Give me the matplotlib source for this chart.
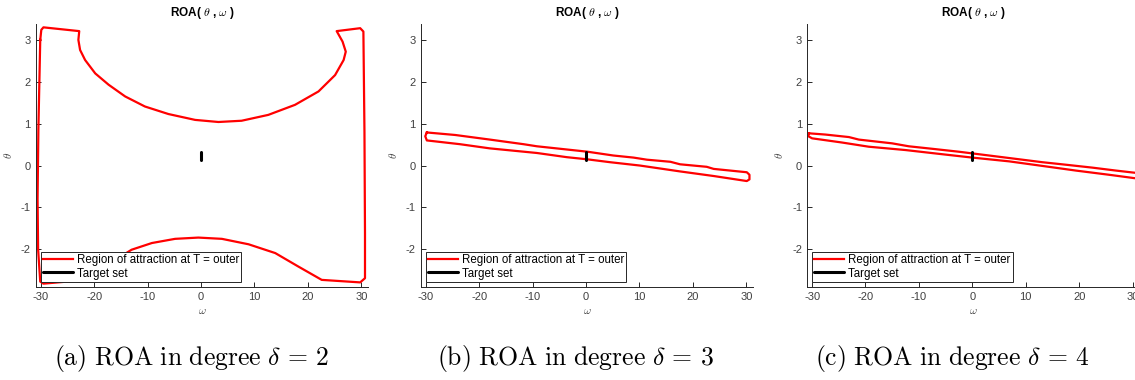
import matplotlib
matplotlib.use("Agg")
import matplotlib.pyplot as plt
import numpy as np

plt.rcParams['mathtext.fontset'] = 'cm'
plt.rcParams['font.family'] = ['Liberation Sans', 'DejaVu Sans']
plt.rcParams['axes.unicode_minus'] = False

# ---------------- data ----------------
# Panel (a): degree 2 outer ROA boundary (omega, theta)
roa2_omega = [-30.1, -29.9, -29.5, -22.8, -22.96, -22.64, -21.7, -19.8, -17.3, -14.2,
              -10.5, -6.1, -1.1, 3.26, 7.6, 12.6, 17.6, 22.0, 25.1, 26.7, 27.1,
              26.5, 25.4, 29.8, 30.4, 30.6, 30.7, 30.7, 29.8, 22.6, 18.2, 13.9,
              8.9, 3.9, -0.5, -4.85, -9.2, -13.0, -15.5, -18.6, -21.4, -29.5,
              -30.1, -30.5, -30.6, -30.45, -30.1]
roa2_theta = [3.00, 3.24, 3.30, 3.21, 3.00, 2.76, 2.52, 2.20, 1.93, 1.65,
              1.41, 1.23, 1.09, 1.04, 1.07, 1.21, 1.45, 1.77, 2.16, 2.52, 2.72,
              2.96, 3.21, 3.28, 3.20, 0.80, -1.62, -2.69, -2.79, -2.73, -2.41, -2.09,
              -1.88, -1.75, -1.72, -1.75, -1.85, -2.01, -2.21, -2.51, -2.73, -2.82,
              -2.77, -2.00, -0.80, 0.85, 3.00]

# Panel (b): degree 3 outer ROA boundary
roa3_omega = [-29.8, -24.5, -18.0, -11.7, -9.2, -4.8, 0.3, 5.1, 8.9, 11.4, 15.8,
              17.6, 22.6, 23.9, 30.1, 30.6, 30.6, 30.1, 23.9, 17.6, 10.1, 4.5,
              0.15, -3.6, -9.2, -14.8, -18.0, -23.6, -29.8, -30.1, -29.8]
roa3_theta = [0.79, 0.73, 0.62, 0.51, 0.46, 0.40, 0.33, 0.24, 0.19, 0.14, 0.09,
              0.03, -0.03, -0.08, -0.16, -0.22, -0.33, -0.37, -0.25, -0.14, 0.00, 0.08,
              0.15, 0.20, 0.30, 0.37, 0.41, 0.51, 0.60, 0.70, 0.79]

# Panel (c): degree 4 outer ROA boundary
roa4_omega = [-30.6, -27.5, -23.1, -21.25, -15.0, -11.9, -7.5, -2.5, 3.75, 8.75, 13.1,
              17.5, 22.5, 26.9, 30.3, 32.0, 32.0, 30.3, 25.6, 19.4, 13.75, 6.9,
              0.0, -5.6, -12.5, -19.4, -24.4, -30.0, -30.7, -30.6]
roa4_theta = [0.77, 0.74, 0.68, 0.62, 0.53, 0.46, 0.40, 0.33, 0.23, 0.15, 0.08,
              0.02, -0.05, -0.12, -0.17, -0.19, -0.32, -0.30, -0.22, -0.12, -0.02, 0.10,
              0.19, 0.27, 0.37, 0.45, 0.55, 0.65, 0.70, 0.77]

# Target set (small segment around the origin)
target_omega = [0.0, 0.0]
target_theta = [0.14, 0.33]

panels_omega = [roa2_omega, roa3_omega, roa4_omega]
panels_theta = [roa2_theta, roa3_theta, roa4_theta]
captions = [r'$\mathrm{(a)\ ROA\ in\ degree\ }\delta\,=\,2$',
            r'$\mathrm{(b)\ ROA\ in\ degree\ }\delta\,=\,3$',
            r'$\mathrm{(c)\ ROA\ in\ degree\ }\delta\,=\,4$']
xticks = [-30, -20, -10, 0, 10, 20, 30]
yticks = [-2, -1, 0, 1, 2, 3]

# ---------------- figure ----------------
fig = plt.figure(figsize=(11.35, 3.8), dpi=100)
lefts = [35.7, 420.7, 807.0]
W, H = 1135.0, 380.0
ax_w = 332.5
ax_bottom, ax_top = 287.0, 24.0
grey = '#262626'
caption_cx = [192, 575, 952]

for i in range(3):
    ax = fig.add_axes([lefts[i] / W, (H - ax_bottom) / H, ax_w / W, (ax_bottom - ax_top) / H])
    ax.plot(panels_omega[i], panels_theta[i], color='#ff0000', lw=1.6,
            label='Region of attraction at T = outer', solid_joinstyle='round')
    ax.plot(target_omega, target_theta, color='black', lw=2.2,
            label='Target set', solid_capstyle='round')
    ax.set_xlim(-30.95, 31.3)
    ax.set_ylim(-2.9, 3.38)
    ax.set_xticks(xticks)
    ax.set_yticks(yticks)
    for s in ['top', 'right']:
        ax.spines[s].set_visible(False)
    for s in ['left', 'bottom']:
        ax.spines[s].set_color(grey)
        ax.spines[s].set_linewidth(0.7)
    ax.tick_params(direction='in', length=3.5, width=0.7, colors=grey,
                   labelsize=8, labelcolor='#404040')
    ax.set_xlabel(r'$\omega$', fontsize=8, color='#404040', labelpad=3)
    ax.set_ylabel(r'$\theta$', fontsize=8, color='#404040', labelpad=5)
    ax.set_title('ROA( $\\mathbf{\\theta}$ , $\\mathbf{\\omega}$ )', fontsize=8.5,
                 fontweight='bold', pad=6)
    leg = ax.legend(loc='lower left', fontsize=8.3, frameon=True, fancybox=False,
                    edgecolor=grey, framealpha=1.0, handlelength=2.6,
                    borderpad=0.2, labelspacing=0.1, handletextpad=0.3,
                    borderaxespad=0.45)
    leg.get_frame().set_linewidth(0.7)
    fig.text(caption_cx[i] / W, (H - 358) / H, captions[i], ha='center', va='center',
             fontsize=18.5)

fig.savefig('out.png', dpi=100)
